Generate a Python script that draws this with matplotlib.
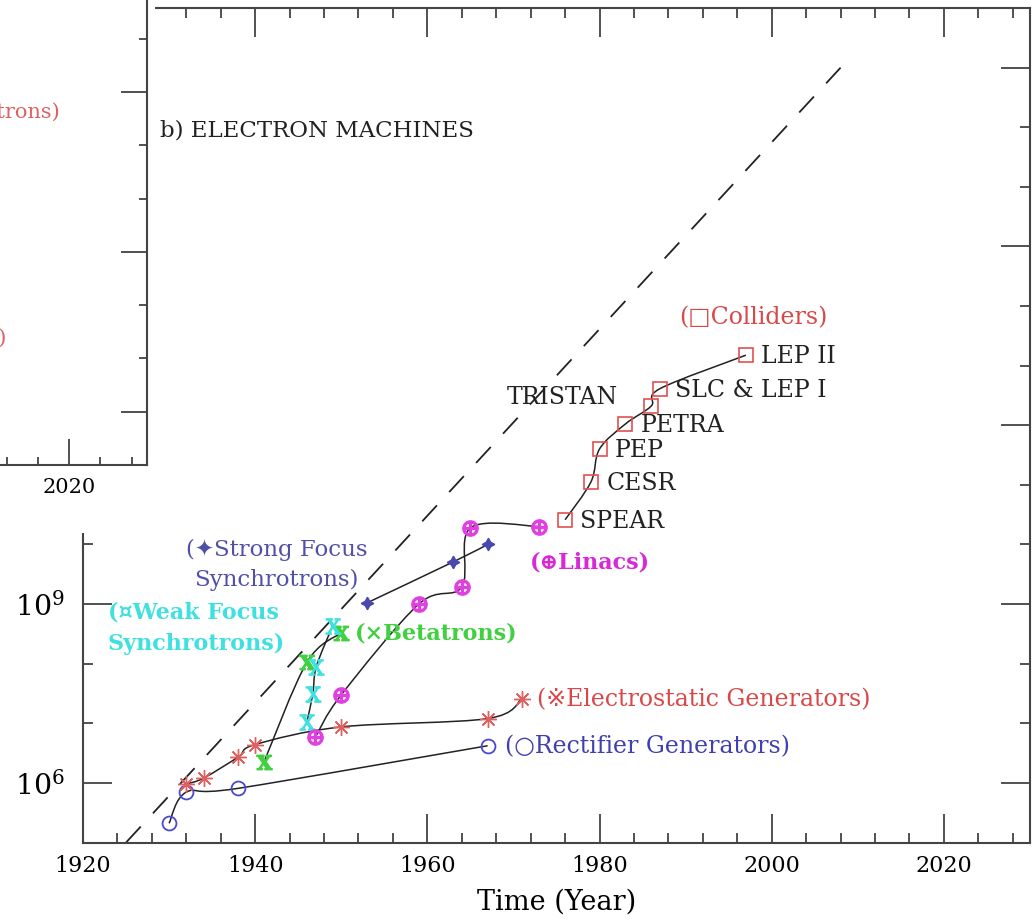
import numpy as np
import matplotlib
matplotlib.use('Agg')
import matplotlib.pyplot as plt
from matplotlib.path import Path
from matplotlib.patches import PathPatch, Rectangle
from matplotlib.ticker import FixedLocator, MultipleLocator, FuncFormatter, NullFormatter

plt.rcParams['font.family'] = ['DejaVu Serif', 'DejaVu Sans']
plt.rcParams['mathtext.fontset'] = 'dejavuserif'

# data (year, energy in eV)
rect_year = [1930, 1932, 1938, 1967]
rect_energy = [2.1e5, 7e5, 8.1e5, 4.2e6]

estat_year = [1932, 1934, 1938, 1940, 1950, 1967, 1971]
estat_energy = [9.6e5, 1.2e6, 2.7e6, 4.4e6, 8.7e6, 1.2e7, 2.6e7]

beta_year = [1941, 1946, 1950]
beta_energy = [2.2e6, 1.05e8, 3.3e8]

weak_year = [1946, 1946.7, 1947.1, 1949]
weak_energy = [1.05e7, 3.1e7, 8.9e7, 4.3e8]

linac_year = [1947, 1950, 1959, 1964, 1965, 1973]
linac_energy = [5.9e6, 3e7, 1e9, 1.95e9, 1.9e10, 2e10]

strong_year = [1953, 1963, 1967]
strong_energy = [1.05e9, 5.1e9, 1e10]

coll_names = ['SPEAR', 'CESR', 'PEP', 'PETRA', 'TRISTAN', 'SLC & LEP I', 'LEP II']
coll_year = [1976, 1979, 1980, 1983, 1986, 1987, 1997]
coll_energy = [2.6e10, 1.12e11, 4e11, 1.05e12, 2.1e12, 4.1e12, 1.5e13]

trend_year = [1925, 2008]
trend_energy = [1e5, 1e18]

major_y = [1e6, 1e9, 1e12, 1e15, 1e18]
minor_y = [10.0 ** k for k in range(5, 20)]


def smooth(ax, xs, ys, **kw):
    # smooth curve through the points (bezier, drawn in log space)
    p = np.column_stack([xs, np.log10(ys)])
    n = len(p)
    verts = [p[0]]
    codes = [Path.MOVETO]
    for i in range(n - 1):
        a = p[max(i - 1, 0)]
        d = p[min(i + 2, n - 1)]
        b, c = p[i], p[i + 1]
        verts += [b + (c - a) / 6, c - (d - b) / 6, c]
        codes += [Path.CURVE4] * 3
    verts = np.array(verts)
    verts[:, 1] = 10 ** verts[:, 1]
    ax.add_patch(PathPatch(Path(verts, codes), fill=False, **kw))


def style_axes(ax, xsize, ysize):
    ax.set_xlim(1920, 2030)
    ax.set_yscale('log')
    ax.set_ylim(1e5, 1e19)
    ax.xaxis.set_major_locator(MultipleLocator(20))
    ax.xaxis.set_minor_locator(MultipleLocator(4))
    ax.yaxis.set_major_locator(FixedLocator(major_y))
    ax.yaxis.set_minor_locator(FixedLocator(minor_y))
    ax.yaxis.set_major_formatter(FuncFormatter(lambda v, pos: r'$10^{%d}$' % round(np.log10(v))))
    ax.yaxis.set_minor_formatter(NullFormatter())
    ax.tick_params(which='major', direction='in', length=21, width=1.2,
                   top=True, right=True, pad=9, color='#333333')
    ax.tick_params(axis='x', which='major', labelsize=xsize)
    ax.tick_params(axis='y', which='major', labelsize=ysize, pad=13)
    ax.tick_params(which='minor', direction='in', length=7, width=1.2,
                   top=True, right=True, color='#333333')
    for s in ax.spines.values():
        s.set_linewidth(1.5)
        s.set_color('#444444')


fig = plt.figure(figsize=(10.36, 9.23), dpi=100)

# b) electron machines
ax = fig.add_axes([0.0801, 0.0872, 0.9141, 0.9041])
style_axes(ax, 16, 20.5)
ax.set_xlabel('Time (Year)', fontsize=19.5, labelpad=8)

ax.plot(trend_year, trend_energy, color='#222222', lw=1.3, ls=(0, (12, 10)))

smooth(ax, rect_year, rect_energy, color='#222222', lw=1.1, zorder=3)
smooth(ax, estat_year, estat_energy, color='#222222', lw=1.1, zorder=3)
smooth(ax, beta_year, beta_energy, color='#222222', lw=1.1, zorder=3)
smooth(ax, weak_year, weak_energy, color='#222222', lw=1.1, zorder=3)
smooth(ax, linac_year, linac_energy, color='#222222', lw=1.1, zorder=3)
smooth(ax, strong_year, strong_energy, color='#222222', lw=1.1, zorder=3)
smooth(ax, coll_year, coll_energy, color='#222222', lw=1.1, zorder=3)

ax.plot(rect_year, rect_energy, 'o', ls='none', ms=10, mfc='none', mec='#4a4ad0', mew=1.3, zorder=4)
ax.plot(estat_year, estat_energy, marker=(8, 2, 0), ls='none', ms=12, color='#e06060', mew=1.0, zorder=4)
ax.plot(beta_year, beta_energy, marker=r'$\mathbf{X}$', ls='none', ms=11, color='#40d040', zorder=4)
ax.plot(weak_year, weak_energy, marker=r'$\mathrm{X}$', ls='none', ms=11, color='#40e0e0', zorder=4)
ax.plot(linac_year, linac_energy, marker=r'$\oplus$', ls='none', ms=11, color='#e040e0', zorder=4)
ax.plot(strong_year, strong_energy, marker=(4, 1, 0), ls='none', ms=9, color='#4848b0', zorder=4)
ax.plot(coll_year, coll_energy, 's', ls='none', ms=9.5, mfc='none', mec='#e05050', mew=1.2, zorder=4)

for name, yr, en in zip(coll_names, coll_year, coll_energy):
    if name == 'TRISTAN':
        ax.annotate(name, (yr, en), xytext=(-24, 6), textcoords='offset points',
                    ha='right', va='center', fontsize=17, color='#222222')
    else:
        ax.annotate(name, (yr, en), xytext=(11, -1), textcoords='offset points',
                    ha='left', va='center', fontsize=17, color='#222222')

ax.text(1928.9, 10 ** 16.95, 'b) ELECTRON MACHINES', fontsize=16.5, va='center', color='#222222')
ax.text(1942.5, 10 ** 9.66, '(\u2726Strong Focus\nSynchrotrons)', ha='center', va='center',
        fontsize=16.5, color='#5050a8', linespacing=1.5)
ax.text(1922.9, 10 ** 8.60, '(\u00a4Weak Focus\nSynchrotrons)', ha='left', va='center',
        fontsize=16, color='#40e0e0', fontweight='bold', linespacing=1.55)
ax.text(1951.6, 10 ** 8.50, '(\u00d7Betatrons)', ha='left', va='center',
        fontsize=16, color='#40d040', fontweight='bold')
ax.text(1971.9, 10 ** 9.69, '(\u2295Linacs)', ha='left', va='center',
        fontsize=16, color='#d828d8', fontweight='bold')
ax.text(1972.7, 10 ** 7.39, '(\u203bElectrostatic Generators)', ha='left', va='center',
        fontsize=17, color='#d84848')
ax.text(1969.0, 10 ** 6.60, '(\u25cbRectifier Generators)', ha='left', va='center',
        fontsize=17, color='#4040b0')
ax.text(1989.3, 10 ** 13.80, '(\u25a1Colliders)', ha='left', va='center',
        fontsize=17, color='#d84848')

# white block of the neighbouring panel hides the top left corner
fig.add_artist(Rectangle((0, 1 - 533 / 923), 155 / 1036, 533 / 923, transform=fig.transFigure,
                         facecolor='white', edgecolor='none', zorder=0.5))

# a) corner of the neighbouring panel, overlapping the top left
ax_a = fig.add_axes([-0.686, 0.4962, 0.828, 0.808])
ax_a.set_zorder(1)
ax_a.set_facecolor('white')
style_axes(ax_a, 15, 15)
ax_a.tick_params(which='major', length=19)
ax_a.tick_params(which='minor', length=6)
ax_a.text(2018.8, 10 ** 11.62, '(Proton Synchrotrons)', ha='right', va='center',
          fontsize=15, color='#e06060')
ax_a.text(2011.9, 10 ** 7.38, '(\u203bElectrostatic Generators)', ha='right', va='center',
          fontsize=15, color='#e06060')

fig.savefig('out.png', dpi=100)
